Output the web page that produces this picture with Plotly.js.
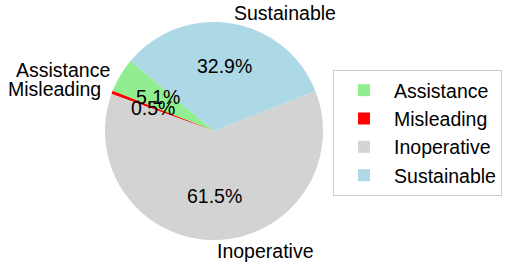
<!DOCTYPE html>
<html>
<head>
<meta charset="utf-8">
<script src="https://cdn.plot.ly/plotly-3.0.1.min.js"></script>
<style>html,body{margin:0;padding:0;background:#fff;}#chart{width:505px;height:266px;}</style>
</head>
<body>
<div id="chart"></div>
<script>
const categories = ["Assistance", "Misleading", "Inoperative", "Sustainable"];
const values = [5.1, 0.5, 61.5, 32.9];
const colors = ["#90ee90", "#ff0000", "#d3d3d3", "#add8e6"];

const startAngle = 140; // degrees, counterclockwise from 3 o'clock (first slice start)
const total = values.reduce((a, b) => a + b, 0);
// Plotly: counterclockwise, slice 0 spans clockwise angles [rotation, rotation + a0]
const rotation = (90 - startAngle) - 360 * values[0] / total;

const FONT = "Liberation Sans, Arial, sans-serif";
const FS = 19.5;

const annotations = [];
let acc = startAngle;
values.forEach((v, i) => {
  const span = 360 * v / total;
  const mid = (acc + span / 2) * Math.PI / 180;
  acc += span;
  const c = Math.cos(mid), s = Math.sin(mid);
  annotations.push({
    xref: "paper", yref: "paper",
    x: 0.5 + 0.5 * 1.1 * c, y: 0.5 + 0.5 * 1.1 * s,
    xanchor: c >= 0 ? "left" : "right", yanchor: "middle",
    text: categories[i], showarrow: false,
    font: {family: FONT, size: FS, color: "#000"}, borderpad: 0
  });
  annotations.push({
    xref: "paper", yref: "paper",
    x: 0.5 + 0.5 * 0.6 * c, y: 0.5 + 0.5 * 0.6 * s,
    xanchor: "center", yanchor: "middle",
    text: (100 * v / total).toFixed(1) + "%", showarrow: false,
    font: {family: FONT, size: FS, color: "#000"}, borderpad: 0
  });
});

const data = [{
  type: "pie",
  labels: categories,
  values: values,
  marker: {colors: colors, line: {width: 0}},
  sort: false,
  direction: "counterclockwise",
  rotation: rotation,
  textinfo: "none",
  hoverinfo: "none"
}];

const layout = {
  width: 505, height: 266,
  margin: {l: 105, r: 182, t: 22, b: 26, pad: 0, autoexpand: false},
  paper_bgcolor: "#fff", plot_bgcolor: "#fff",
  font: {family: FONT, size: FS, color: "#000"},
  showlegend: true,
  legend: {
    x: 1.046, y: 0.78, xanchor: "left", yanchor: "top",
    bordercolor: "#cccccc", borderwidth: 1,
    font: {family: FONT, size: FS, color: "#000"},
    itemwidth: 50,
    traceorder: "normal"
  },
  annotations: annotations
};

Plotly.newPlot("chart", data, layout, {displayModeBar: false, staticPlot: true});
</script>
</body>
</html>
